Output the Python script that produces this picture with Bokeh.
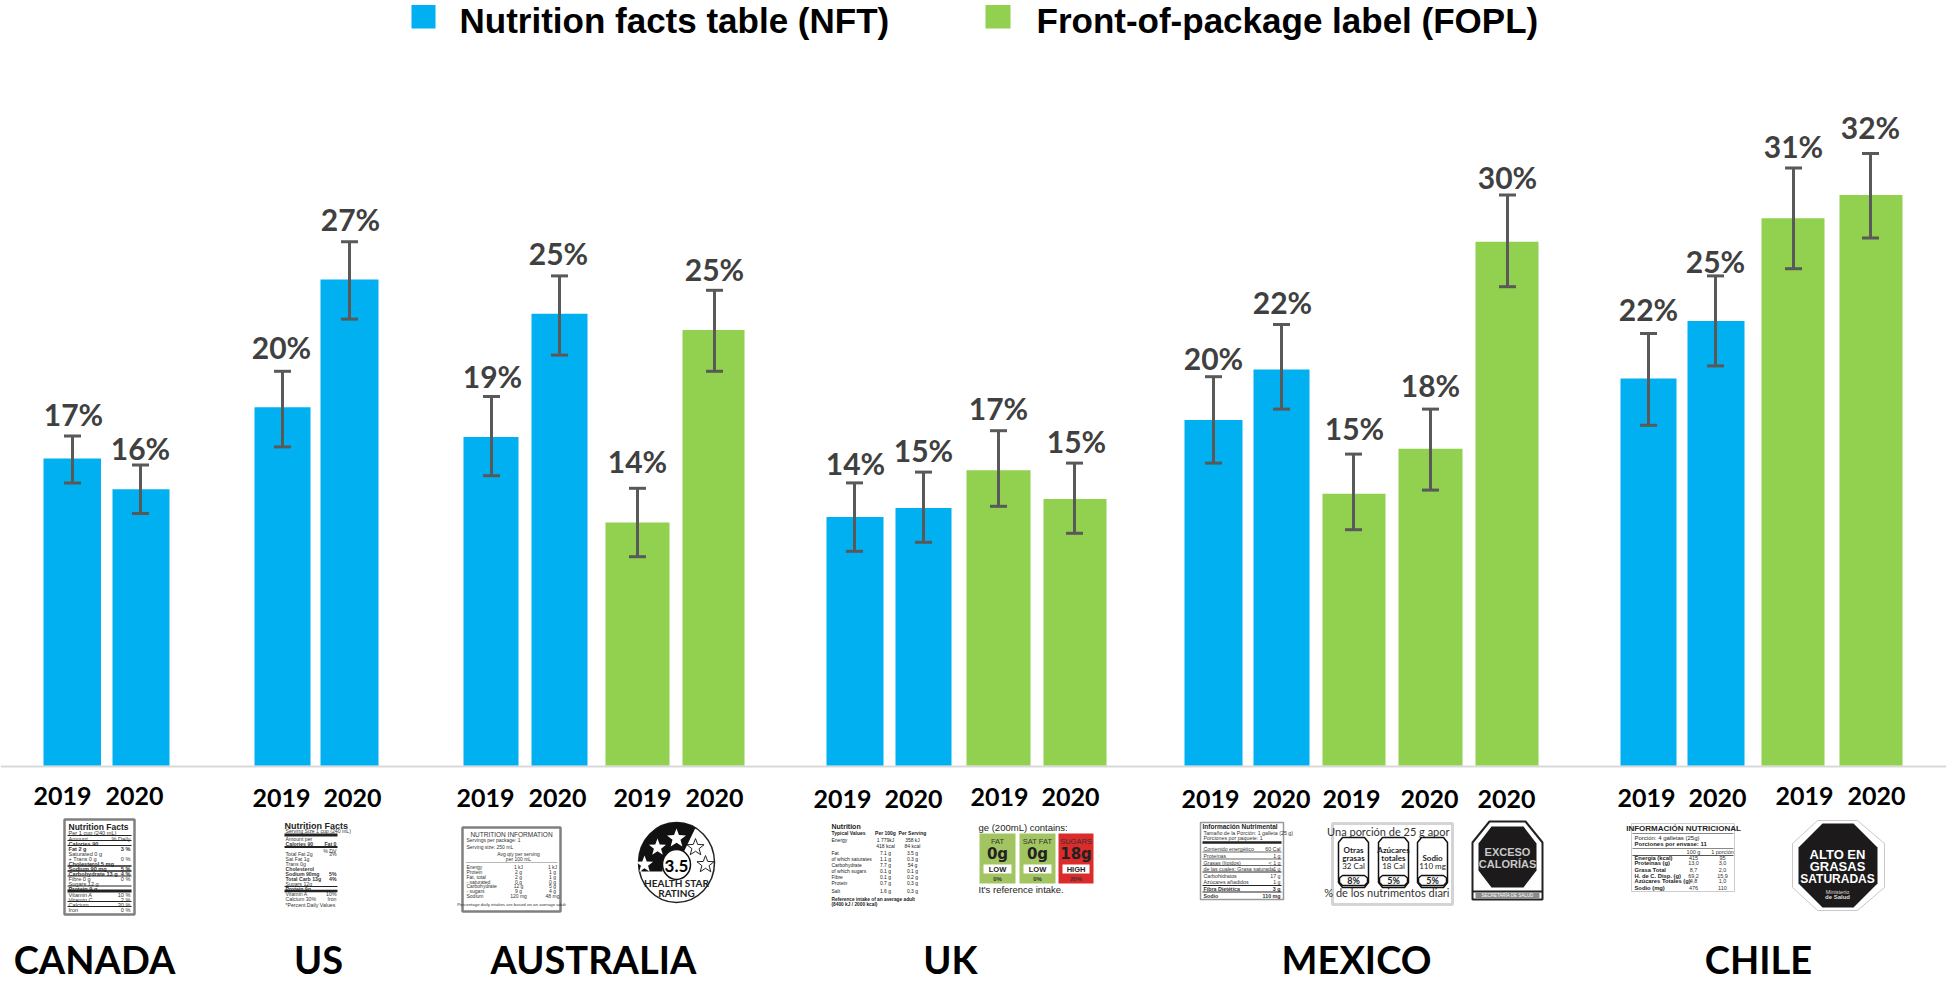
import math
from bokeh.plotting import figure
from bokeh.models import Range1d, ColumnDataSource, Whisker, TeeHead
from bokeh.core.properties import value
from bokeh.embed import file_html
from bokeh.resources import INLINE

# ---------- data ----------
countries = ["CANADA", "US", "AUSTRALIA", "UK", "MEXICO", "CHILE"]
group = ["CANADA", "CANADA", "US", "US", "AUSTRALIA", "AUSTRALIA", "AUSTRALIA", "AUSTRALIA",
         "UK", "UK", "UK", "UK", "MEXICO", "MEXICO", "MEXICO", "MEXICO", "MEXICO",
         "CHILE", "CHILE", "CHILE", "CHILE"]
years = ["2019", "2020", "2019", "2020", "2019", "2020", "2019", "2020",
         "2019", "2020", "2019", "2020", "2019", "2020", "2019", "2020", "2020",
         "2019", "2020", "2019", "2020"]
kinds = ["NFT", "NFT", "NFT", "NFT", "NFT", "NFT", "FOPL", "FOPL",
         "NFT", "NFT", "FOPL", "FOPL", "NFT", "NFT", "FOPL", "FOPL", "FOPL",
         "NFT", "NFT", "FOPL", "FOPL"]
values = [17.05, 15.35, 19.9, 27.0, 18.25, 25.1, 13.5, 24.2,
          13.8, 14.3, 16.4, 14.8, 19.2, 22.0, 15.1, 17.6, 29.1,
          21.5, 24.7, 30.4, 31.7]
err_high = [18.3, 16.7, 21.9, 29.1, 20.5, 27.2, 15.4, 26.4,
            15.7, 16.3, 18.6, 16.8, 21.6, 24.5, 17.3, 19.8, 31.7,
            24.0, 27.2, 33.2, 34.0]
err_low = [15.7, 14.0, 17.7, 24.8, 16.1, 22.8, 11.6, 21.9,
           11.9, 12.4, 14.4, 12.9, 16.8, 19.8, 13.1, 15.3, 26.6,
           18.9, 22.2, 27.6, 29.3]
labels = ["17%", "16%", "20%", "27%", "19%", "25%", "14%", "25%",
          "14%", "15%", "17%", "15%", "20%", "22%", "15%", "18%", "30%",
          "22%", "25%", "31%", "32%"]
legend_names = ["Nutrition facts table (NFT)", "Front-of-package label (FOPL)"]

# ---------- layout (screen pixels of the page) ----------
bar_left = [43, 112, 254, 320, 463, 531, 605, 682, 826, 895, 966, 1043,
            1184, 1253, 1322, 1398, 1475, 1620, 1687, 1761, 1839]
bar_right = [100.5, 169, 310, 378, 518, 587, 669, 744, 883, 951, 1030, 1106,
             1242, 1309, 1385, 1462, 1538, 1676, 1744, 1824, 1902]
err_x = [72, 140, 282, 349, 491, 559, 637, 714, 854, 923, 998, 1074,
         1213, 1281, 1353, 1430, 1507, 1648, 1715, 1793, 1870]
label_y = [413, 447, 346, 218, 375, 252, 460, 268, 462, 449, 407, 440,
           357, 301, 427, 384, 176, 308, 260, 145, 126]
label_x = [73, 140, 281, 350, 492, 558, 637, 714, 855, 923, 998, 1076,
           1213, 1282, 1354, 1430, 1507, 1648, 1715, 1793, 1870]
year_x = [62, 134, 281, 352, 485, 557, 642, 714, 842, 913, 999, 1070,
          1210, 1281, 1351, 1429, 1506, 1646, 1717, 1804, 1876]
year_y = [795, 795, 797, 797, 797, 797, 797, 797, 798, 798, 796, 796,
          798, 798, 798, 798, 798, 797, 797, 795, 795]
country_x = [94, 318, 593, 950, 1356, 1758]
country_y = 958
PX_TOP, PX_BOTTOM, BASE_PX, PX_PER_PCT = 0, 981, 765, 18.0

BLUE, GREEN, GREY = "#00B0F0", "#92D050", "#595959"
MAIN = "Lato"
LEGEND_FONT = "Liberation Sans"
TINY = "Liberation Sans"
NARROW = "Lato"

p = figure(width=1946, height=981, output_backend="svg", toolbar_location=None,
           x_range=Range1d(0, 1946),
           y_range=Range1d((BASE_PX - PX_BOTTOM) / PX_PER_PCT, (BASE_PX - PX_TOP) / PX_PER_PCT),
           min_border=0, x_axis_type=None, y_axis_type=None, outline_line_color=None)
p.grid.visible = False
p.extra_y_ranges = {"px": Range1d(PX_BOTTOM, PX_TOP)}


def T(x, y, s, size, color="black", bold=False, align="center", font=TINY, base="middle"):
    p.text([x], [y], text=[s], y_range_name="px", text_font=value(font),
           text_font_size=f"{size}px", text_color=color,
           text_font_style="bold" if bold else "normal",
           text_align=align, text_baseline=base)


def R(x0, y0, x1, y1, fill=None, line=None, lw=1):
    p.quad(left=[x0], right=[x1], top=[y0], bottom=[y1], y_range_name="px",
           fill_color=fill, line_color=line, line_width=lw,
           fill_alpha=1 if fill else 0, line_alpha=1 if line else 0)


def L(x0, x1, y, lw=1, color="black"):
    p.segment([x0], [y], [x1], [y], y_range_name="px", line_color=color, line_width=lw)


def P(xs, ys, fill=None, line=None, lw=1):
    p.patch(xs, ys, y_range_name="px", fill_color=fill, line_color=line, line_width=lw,
            fill_alpha=1 if fill else 0, line_alpha=1 if line else 0)


def star(cx, cy, r, fill, line=None):
    xs, ys = [], []
    for i in range(10):
        a = -math.pi / 2 + i * math.pi / 5
        rr = r if i % 2 == 0 else r * 0.42
        xs.append(cx + rr * math.cos(a))
        ys.append(cy + rr * math.sin(a))
    P(xs, ys, fill=fill, line=line, lw=1)


def table(x0, x1, rows, lines, size=5.6, color="#333333"):
    for (y, left, right, bold) in rows:
        T(x0 + 3, y, left, size, color=color, bold=bold, align="left")
        if right:
            T(x1 - 3, y, right, size, color=color, bold=bold, align="right")
    for (y, lw) in lines:
        L(x0 + 2, x1 - 2, y, lw, "#222222")


# ---------- baseline ----------
p.segment([0], [-0.05], [1946], [-0.05], line_color="#d9d9d9", line_width=2)

# ---------- bars ----------
src = ColumnDataSource(dict(
    left=bar_left, right=bar_right, top=values, bottom=[0] * len(values),
    color=[BLUE if k == "NFT" else GREEN for k in kinds],
    x=err_x, hi=err_high, lo=err_low))
p.quad(left="left", right="right", top="top", bottom="bottom", fill_color="color",
       line_color=None, source=src)
p.add_layout(Whisker(source=src, base="x", upper="hi", lower="lo", dimension="height",
                     line_color=GREY, line_width=3, level="overlay",
                     upper_head=TeeHead(size=17, line_color=GREY, line_width=3),
                     lower_head=TeeHead(size=17, line_color=GREY, line_width=3)))

# ---------- value labels ----------
p.text(label_x, label_y, text=labels, y_range_name="px", text_font=value(MAIN),
       text_font_size="30px", text_font_style="bold", text_color="#404040",
       text_align="center", text_baseline="middle")

# ---------- year labels ----------
p.text(year_x, year_y, text=years, y_range_name="px", text_font=value(MAIN),
       text_font_size="25px", text_font_style="bold", text_color="black",
       text_align="center", text_baseline="middle")

# ---------- countries ----------
p.text(country_x, [country_y] * len(countries), text=countries, y_range_name="px",
       text_font=value(MAIN), text_font_size="38px", text_font_style="bold",
       text_color="black", text_align="center", text_baseline="middle")

# ---------- legend ----------
R(411, 4.5, 435, 28, fill=BLUE)
R(985, 4.5, 1010, 28, fill=GREEN)
T(459, 20, legend_names[0], 35, bold=True, align="left", font=LEGEND_FONT)
T(1036, 20, legend_names[1], 35, bold=True, align="left", font=LEGEND_FONT)

# ---------- Canada table ----------
R(64, 819, 134, 914, fill="white", line="#808080", lw=2.5)
T(68, 826, "Nutrition Facts", 8.5, bold=True, align="left", color="#222222")
table(65, 133, [
    (832, "Per 1 cup (240 mL)", "", False),
    (838, "Amount", "% Daily", False),
    (843, "Calories 90", "", True),
    (848, "Fat 2 g", "3 %", True),
    (853, "Saturated 0 g", "", False),
    (858, "+ Trans 0 g", "0 %", False),
    (863, "Cholesterol 5 mg", "", True),
    (868, "Sodium 90 mg", "5 %", True),
    (873, "Carbohydrate 13 g", "4 %", True),
    (878, "Fibre 0 g", "0 %", False),
    (883, "Sugars 12 g", "", False),
    (888, "Protein 9 g", "", True),
    (894, "Vitamin A", "10 %", False),
    (899, "Vitamin C", "2 %", False),
    (904, "Calcium", "30 %", False),
    (909, "Iron", "0 %", False)],
    [(835, 1), (840, 1), (845, 1), (865.5, 1.5), (870.5, 1.5), (875.5, 1), (885.5, 1), (890.5, 3), (901, 1), (906, 1)])

# ---------- US table ----------
T(284, 825, "Nutrition Facts", 9, bold=True, align="left", color="#222222")
table(282, 339, [
    (830, "Serving Size 1 cup (240 mL)", "", False),
    (838.5, "Amount per", "", False),
    (843.5, "Calories 90", "Fat 0", True),
    (850, "", "% DV", False),
    (853, "Total Fat 2g", "3%", False),
    (858, "Sat Fat 1g", "", False),
    (863, "Trans 0g", "", False),
    (868, "Cholesterol", "", True),
    (873, "Sodium 90mg", "5%", True),
    (878, "Total Carb 13g", "4%", True),
    (883, "Sugars 12g", "", False),
    (888, "Protein 9g", "", True),
    (893, "Vitamin A", "10%", False),
    (898, "Calcium 30%", "Iron", False),
    (904, "*Percent Daily Values", "", False)],
    [(834.5, 3), (846.5, 2), (886, 1), (890.5, 2.5)], size=5.2)

# ---------- Australia table ----------
R(462, 827, 560, 911, fill="white", line="#808080", lw=2.5)
T(511, 834, "NUTRITION INFORMATION", 6.5, align="center", color="#333333")
T(466, 839, "Servings per package: 1", 5, align="left", color="#333333")
T(466, 846, "Serving size: 250 mL", 5, align="left", color="#333333")
T(518, 853, "Avg qty per serving", 5, align="center", color="#333333")
T(518, 858, "per 100 mL", 5, align="center", color="#333333")
L(465, 557, 862, 0.7, "#999999")
for yy, a, b, c in [(866, "Energy", "1 kJ", "1 kJ"), (871, "Protein", "2 g", "1 g"),
                    (876, "Fat, total", "2 g", "1 g"), (881, "- saturated", "0 g", "0 g"),
                    (885, "Carbohydrate", "12 g", "5 g"), (890, "- sugars", "9 g", "4 g"),
                    (895, "Sodium", "120 mg", "48 mg")]:
    T(466, yy, a, 5, align="left", color="#333333")
    T(518, yy, b, 5, color="#333333")
    T(552, yy, c, 5, color="#333333")
T(511, 904, "Percentage daily intakes are based on an average adult", 4.4, color="#333333")

# ---------- Health star rating ----------
hcx, hcy, hrx, hry = 676, 862, 38, 40
p.ellipse([hcx], [hcy], width=[2 * hrx], height=[80], y_range_name="px",
          fill_color="white", line_color="#222222", line_width=1.5,
          height_units="screen", width_units="screen")
ax, ay = [], []
for i in range(0, 31):
    a = math.radians(168 + i * (300 - 168) / 30)
    ax.append(hcx + hrx * math.cos(a))
    ay.append(hcy + hry * math.sin(a))
for i in range(0, 13):
    a = math.radians(300 - i * 105 / 12)
    ax.append(hcx + 14 * math.cos(a))
    ay.append(864 + 14 * math.sin(a))
P(ax + [ax[0]], ay + [ay[0]], fill="#111111")
P([hcx - hrx + 1, hcx - 14, hcx - 14, hcx - hrx + 3], [858, 858, 871, 871], fill="#111111")
star(644, 864, 9, "white")
star(657, 847, 9, "white")
star(676, 838, 10, "white")
star(695, 847, 9, "white", line="#222222")
star(705, 864, 9, "white", line="#222222")
p.ellipse([676], [864], width=[28], height=[30], y_range_name="px", fill_color="white",
          line_color="#111111", line_width=1.5, width_units="screen", height_units="screen")
T(676, 865, "3.5", 17, bold=True, font=NARROW)
T(676, 882, "HEALTH STAR", 10, bold=True, font=NARROW, color="#222222")
T(676, 892, "RATING", 10, bold=True, font=NARROW, color="#222222")

# ---------- UK table ----------
T(831, 826, "Nutrition", 7, bold=True, align="left", color="#222222")
T(831, 832, "Typical Values", 5, bold=True, align="left", color="#222222")
T(885, 832, "Per 100g", 5, bold=True, color="#222222")
T(912, 832, "Per Serving", 5, bold=True, color="#222222")
for yy, a, b, c in [(839, "Energy", "1 779kJ", "358 kJ"), (845, "", "418 kcal", "84 kcal"),
                    (852, "Fat", "7.1 g", "3.5 g"), (858, "of which saturates", "1.1 g", "0.3 g"),
                    (864, "Carbohydrate", "7.7 g", "54 g"), (870, "of which sugars", "0.1 g", "0.1 g"),
                    (876, "Fibre", "0.1 g", "0.2 g"), (882, "Protein", "0.7 g", "0.3 g"),
                    (890, "Salt", "1.6 g", "0.3 g")]:
    T(831, yy, a, 5, align="left", color="#222222")
    T(885, yy, b, 5, color="#222222")
    T(912, yy, c, 5, color="#222222")
T(831, 899, "Reference intake of an average adult", 4.8, bold=True, align="left", color="#222222")
T(831, 904, "(8400 kJ / 2000 kcal)", 4.8, bold=True, align="left", color="#222222")

# ---------- UK front-of-pack ----------
T(978, 827, "ge (200mL) contains:", 9.5, align="left", color="#222222")
T(978, 889, "It's reference intake.", 9.5, align="left", color="#222222")
for x0, x1, col, name, g, lvl, pc in [
        (979, 1015, "#A2C562", "FAT", "0g", "LOW", "0%"),
        (1019, 1055, "#A2C562", "SAT FAT", "0g", "LOW", "0%"),
        (1058, 1093, "#DC2B2B", "SUGARS", "18g", "HIGH", "20%")]:
    c = (x0 + x1) / 2
    R(x0, 833, x1, 883, fill=col)
    T(c, 840.5, name, 7.5, color="#333333")
    T(c, 853, g, 15, bold=True, color="#222222", font="DejaVu Sans")
    R(x0 + 4, 864, x1 - 4, 873, fill="white")
    T(c, 868.5, lvl, 7.5, bold=True, color="#222222")
    T(c, 878, pc, 6, bold=True, color="#333333")

# ---------- Mexico table ----------
R(1200, 822, 1283, 899, fill="white", line="#9a9a9a", lw=1.5)
T(1202, 826, "Información Nutrimental", 6.5, bold=True, align="left", color="#222222")
table(1200, 1283, [
    (832, "Tamaño de la Porción: 1 galleta (25 g)", "", False),
    (837, "Porciones por paquete: 1", "", False),
    (848, "Contenido energético", "60 Cal", False),
    (855, "Proteínas", "1 g", False),
    (862, "Grasas (lípidos)", "< 1 g", False),
    (868, "de las cuales: Grasa saturada", "1 g", False),
    (875, "Carbohidratos", "17 g", False),
    (881, "Azúcares añadidos", "1 g", False),
    (888, "Fibra Dietética", "3 g", True),
    (895, "Sodio", "110 mg", True)],
    [(842, 2.5), (851.5, 0.7), (858.5, 0.7), (865, 0.7), (871.5, 1), (885, 1), (891.5, 1)], size=5.3)

# ---------- Mexico GDA box ----------
R(1332, 823, 1452, 904, fill="white", line="#d4d4d4", lw=3)
T(1449, 831, "Una porción de 25 g apor", 11, align="right", color="#333333", font=NARROW)
T(1449, 892, "% de los nutrimentos diari", 11, align="right", color="#333333", font=NARROW)
for cx, lines_, pc in [(1353, [("Otras", True), ("grasas", True), ("32 Cal", False)], "8%"),
                       (1393, [("Azúcares", True), ("totales", True), ("18 Cal", False)], "5%"),
                       (1432, [("", True), ("Sodio", True), ("110 mg", False)], "5%")]:
    P([cx - 11, cx + 11, cx + 15, cx + 15, cx + 11, cx - 11, cx - 15, cx - 15],
      [837, 837, 842, 882, 887, 887, 882, 842], fill="white", line="#111111", lw=1.5)
    P([cx - 11, cx + 11, cx + 14, cx + 14, cx + 11, cx - 11, cx - 14, cx - 14],
      [875, 875, 877.5, 882, 885, 885, 882, 877.5], fill="white", line="#111111", lw=1.5)
    for yy, (s, b) in zip([849, 857, 865], lines_):
        T(cx, yy, s, 8, bold=b, color="#222222", font=NARROW)
    T(cx, 880, pc, 9, bold=True, color="#222222", font=NARROW)

# ---------- Mexico octagon ----------
P([1489, 1525, 1542, 1542, 1472, 1472], [821, 821, 842, 899, 899, 842], fill="white", line="#222222", lw=2)
P([1491, 1523, 1536, 1536, 1523, 1491, 1478, 1478], [826, 826, 843, 870, 887, 887, 870, 843], fill="#1c1a1b")
T(1507, 851, "EXCESO", 11, bold=True, color="#c8c8c8")
T(1507, 863, "CALORÍAS", 11, bold=True, color="#c8c8c8")
L(1472, 1542, 891, 2, "#222222")
R(1475, 892, 1539, 898, fill="#8a8a8a")
T(1507, 895, "SECRETARÍA DE SALUD", 4.5, color="white")

# ---------- Chile table ----------
R(1631, 823, 1734, 891, fill="white", line="#cccccc", lw=1)
T(1683, 828, "INFORMACIÓN NUTRICIONAL", 8, bold=True, color="#222222")
L(1632, 1733, 833, 1, "#888888")
T(1634, 837, "Porción: 4 galletas (25g)", 6, align="left", color="#222222")
T(1634, 843, "Porciones por envase: 11", 6, bold=True, align="left", color="#222222")
L(1632, 1733, 848, 1, "#888888")
T(1693, 851, "100 g", 5.5, color="#333333")
T(1722, 851, "1 porción", 5.5, color="#333333")
L(1632, 1733, 855, 1, "#555555")
for yy, a, b, c in [(857.5, "Energía (kcal)", "415", "95"), (862.5, "Proteínas (g)", "13,0", "3,0"),
                    (869, "Grasa Total", "8,7", "2,0"), (875, "H. de C. Disp. (g)", "69,2", "15,9"),
                    (880.5, "Azúcares Totales (g)", "4,8", "1,0"), (887, "Sodio (mg)", "476", "110")]:
    T(1634, yy, a, 5.8, bold=True, align="left", color="#222222")
    T(1693, yy, b, 5.5, color="#333333")
    T(1722, yy, c, 5.5, color="#333333")

# ---------- Chile octagon ----------
P([1817, 1857, 1884, 1884, 1857, 1817, 1792, 1792], [820, 820, 843, 887, 910, 910, 887, 843],
  fill="white", line="#c8c8c8", lw=1)
P([1822, 1853, 1877, 1877, 1853, 1822, 1798, 1798], [823, 823, 847, 883, 907, 907, 883, 847],
  fill="#1c1a1b")
T(1837, 854, "ALTO EN", 13, color="white", bold=True)
T(1837, 866, "GRASAS", 13, color="white", bold=True)
T(1837, 878, "SATURADAS", 12, color="white", bold=True)
T(1837, 891, "Ministerio", 5.5, color="#dddddd")
T(1837, 896.5, "de Salud", 6, color="#dddddd", bold=True)

open("out.html", "w").write(file_html(p, INLINE))
